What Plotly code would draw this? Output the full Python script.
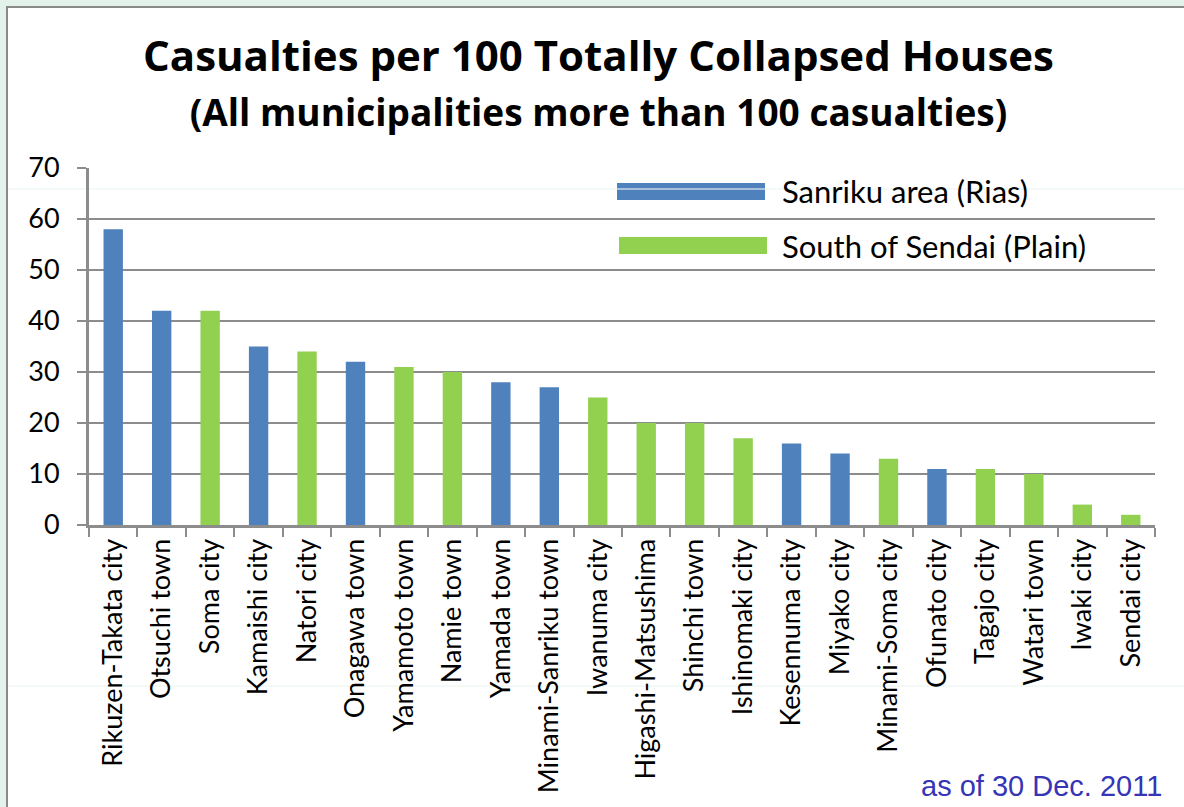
import plotly.graph_objects as go

municipalities = ["Rikuzen-Takata city", "Otsuchi town", "Soma city", "Kamaishi city", "Natori city",
                  "Onagawa town", "Yamamoto town", "Namie town", "Yamada town", "Minami-Sanriku town",
                  "Iwanuma city", "Higashi-Matsushima", "Shinchi town", "Ishinomaki city", "Kesennuma city",
                  "Miyako city", "Minami-Soma city", "Ofunato city", "Tagajo city", "Watari town",
                  "Iwaki city", "Sendai city"]
casualties = [58, 42, 42, 35, 34, 32, 31, 30, 28, 27, 25, 20, 20, 17, 16, 14, 13, 11, 11, 10, 4, 2]
area = ["S", "S", "P", "S", "P", "S", "P", "P", "S", "S", "P", "P", "P", "P", "S", "S", "P", "S", "P", "P", "P", "P"]
area_names = {"S": "Sanriku area (Rias)", "P": "South of Sendai (Plain)"}
area_colors = {"S": "#4F81BD", "P": "#92D050"}
y_ticks = [0, 10, 20, 30, 40, 50, 60, 70]
title_line1 = "Casualties per 100 Totally Collapsed Houses"
title_line2 = "(All municipalities more than 100 casualties)"

W, H = 1184, 807
L, R, T, B = 89, 29, 168, 282
PW, PH = W - L - R, H - T - B


def px(x):
    return (x - L) / PW


def py(y):
    return (H - B - y) / PH


LABEL_FONT = "Lato, Open Sans, sans-serif"
TITLE_FONT = "Open Sans, Lato, sans-serif"

fig = go.Figure()
fig.add_trace(go.Bar(
    x=municipalities, y=casualties,
    marker=dict(color=[area_colors[a] for a in area], line=dict(width=0)),
    showlegend=False, hoverinfo="x+y",
))

grid_c = "#8C8C8C"
fig.update_layout(
    width=W, height=H,
    margin=dict(l=L, r=R, t=T, b=B, pad=0),
    paper_bgcolor="#E3F3EC",
    plot_bgcolor="rgba(0,0,0,0)",
    bargap=0.6,
    font=dict(family=LABEL_FONT, color="#000"),
    xaxis=dict(
        type="category", categoryorder="array", categoryarray=municipalities,
        tickangle=-90, tickfont=dict(size=27, family=LABEL_FONT),
        ticks="outside", tickson="boundaries", ticklen=9, tickwidth=2, tickcolor=grid_c,
        showline=True, linecolor=grid_c, linewidth=3, showgrid=False,
        fixedrange=True,
    ),
    yaxis=dict(
        range=[0, 70], tickvals=y_ticks, ticktext=[str(v) for v in y_ticks],
        tickfont=dict(size=27, family=LABEL_FONT),
        ticks="outside", ticklen=9, tickwidth=2, tickcolor=grid_c, ticklabelstandoff=12,
        showline=True, linecolor=grid_c, linewidth=3,
        showgrid=True, gridcolor=grid_c, gridwidth=2,
        zeroline=False, fixedrange=True,
    ),
)

shapes = [
    # white slide panel
    dict(type="rect", xref="paper", yref="paper", x0=px(7), x1=px(W + 20), y0=py(7), y1=py(H + 20),
         fillcolor="white", line=dict(color="#8A8A8A", width=2), layer="below"),
    # faint slide guides
    dict(type="line", xref="paper", yref="paper", x0=px(8), x1=px(W), y0=py(189), y1=py(189),
         line=dict(color="#E6F4EE", width=1), layer="below"),
    dict(type="line", xref="paper", yref="paper", x0=px(8), x1=px(W), y0=py(686), y1=py(686),
         line=dict(color="#E6F4EE", width=1), layer="below"),
    # legend swatches
    dict(type="rect", xref="paper", yref="paper", x0=px(617), x1=px(765), y0=py(183), y1=py(200),
         fillcolor=area_colors["S"], line=dict(width=0)),
    dict(type="line", xref="paper", yref="paper", x0=px(617), x1=px(765), y0=py(189), y1=py(189),
         line=dict(color="white", width=1)),
    dict(type="rect", xref="paper", yref="paper", x0=px(619), x1=px(767), y0=py(237), y1=py(254),
         fillcolor=area_colors["P"], line=dict(width=0)),
]
fig.update_layout(shapes=shapes)

annotations = [
    dict(text=f"<b>{title_line1}</b><br><span style='font-size:37px'><b>{title_line2}</b></span>",
         x=px(598), y=py(82),
         xref="paper", yref="paper", xanchor="center", yanchor="middle", showarrow=False,
         align="center",
         font=dict(size=42, family=TITLE_FONT, color="#000")),
    dict(text=area_names["S"], x=px(780), y=py(191), xref="paper", yref="paper",
         xanchor="left", yanchor="middle", showarrow=False,
         font=dict(size=31, family=LABEL_FONT, color="#000")),
    dict(text=area_names["P"], x=px(780), y=py(246), xref="paper", yref="paper",
         xanchor="left", yanchor="middle", showarrow=False,
         font=dict(size=31, family=LABEL_FONT, color="#000")),
    dict(text="as of 30 Dec. 2011", x=px(1164), y=py(786), xref="paper", yref="paper",
         xanchor="right", yanchor="middle", showarrow=False,
         font=dict(size=29, family="Liberation Sans, Arial, sans-serif", color="#3535B5")),
]
fig.update_layout(annotations=annotations)

fig.write_html("out.html", config={"displayModeBar": False})
